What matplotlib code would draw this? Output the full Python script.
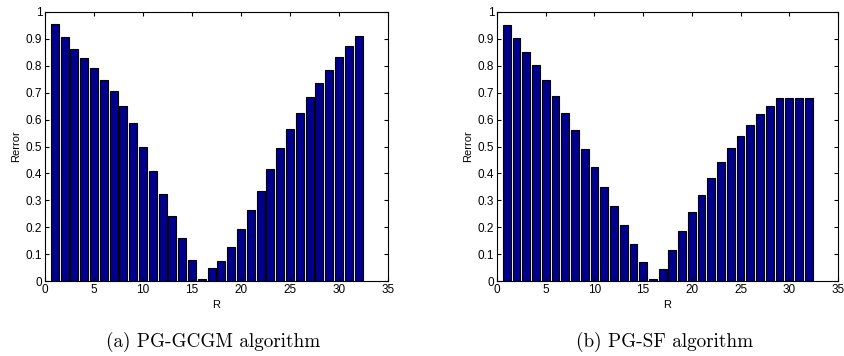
import matplotlib
matplotlib.use("Agg")
import matplotlib.pyplot as plt
import numpy as np

R = np.arange(1, 33)
err_gcgm = [0.954, 0.907, 0.862, 0.830, 0.791, 0.746, 0.705, 0.652, 0.588, 0.499,
            0.410, 0.323, 0.240, 0.158, 0.077, 0.009, 0.049, 0.073, 0.126, 0.195,
            0.263, 0.336, 0.416, 0.496, 0.564, 0.625, 0.684, 0.737, 0.785, 0.832,
            0.872, 0.910]
err_sf = [0.953, 0.904, 0.852, 0.803, 0.748, 0.689, 0.626, 0.563, 0.492, 0.422,
          0.349, 0.279, 0.208, 0.139, 0.069, 0.007, 0.043, 0.114, 0.186, 0.257,
          0.320, 0.383, 0.442, 0.493, 0.539, 0.581, 0.619, 0.652, 0.681, 0.681,
          0.681, 0.681]
captions = ["(a) PG-GCGM algorithm", "(b) PG-SF algorithm"]
yticks = np.arange(0, 1.01, 0.1)
yticklabels = ["0", "0.1", "0.2", "0.3", "0.4", "0.5", "0.6", "0.7", "0.8", "0.9", "1"]

plt.rcParams['font.family'] = ['Liberation Sans', 'DejaVu Sans']

fig = plt.figure(figsize=(8.45, 3.56), dpi=100)
boxes = [[45/845, 1-281/356, 343/845, 269/356],
         [497/845, 1-281/356, 341/845, 269/356]]

for box, data, cap in zip(boxes, [err_gcgm, err_sf], captions):
    ax = fig.add_axes(box)
    ax.bar(R, data, width=0.8, color='#00008c', edgecolor='black', linewidth=0.8)
    ax.set_xlim(0, 35)
    ax.set_ylim(0, 1)
    ax.set_yticks(yticks)
    ax.set_yticklabels(yticklabels)
    ax.set_xticks(range(0, 36, 5))
    ax.tick_params(direction='in', top=True, right=True, labelsize=8.5, length=3, pad=2)
    for s in ax.spines.values():
        s.set_linewidth(0.8)
    ax.set_xlabel("R", fontsize=8, labelpad=3)
    ax.set_ylabel("Rerror", fontsize=8, labelpad=3)
    cx = box[0] + box[2]/2 - 3/845
    fig.text(cx, 1-342/356, cap, ha='center', va='center', fontsize=13.8,
             family='cmr10')

fig.savefig("out.png", dpi=100)
